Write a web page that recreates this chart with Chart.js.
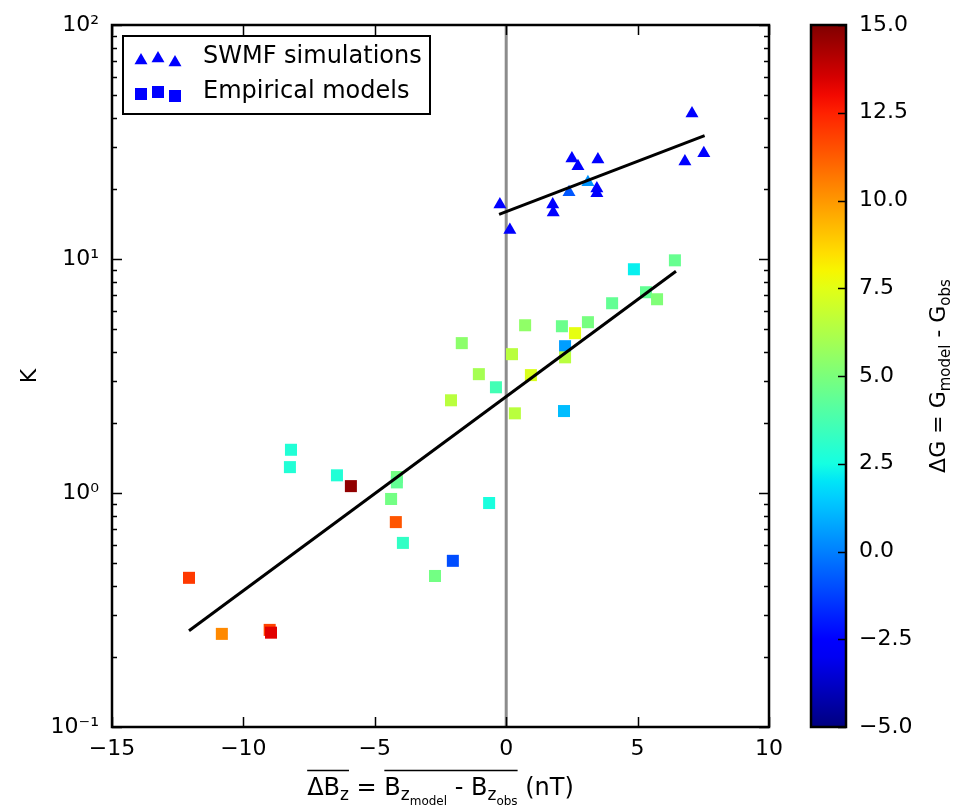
<!DOCTYPE html>
<html lang="en">
<head>
<meta charset="UTF-8">
<title>K vs mean Bz difference</title>
<script src="https://cdn.jsdelivr.net/npm/chart.js"></script>
<style>
  body { margin: 0; background: #fff; }
  .box { position: absolute; top: 0; height: 809px; }
</style>
</head>
<body>
<div class="box" style="left:0;width:790px"><canvas id="mainChart"></canvas></div>
<div class="box" style="left:790px;width:166px"><canvas id="cbarChart"></canvas></div>
<script>
// ---- data ----
// SWMF simulations (triangles)
const swmfDB = [-0.24, 0.14, 1.77, 1.79, 2.39, 2.50, 2.73, 3.11, 3.49, 3.45, 3.45, 7.07, 6.80, 7.52];
const swmfK  = [17.1, 13.3, 17.1, 15.8, 19.3, 26.9, 24.9, 21.3, 26.6, 20.0, 19.1, 41.9, 26.1, 28.3];
const swmfDG = [-2.6, -2.6, -2.6, -2.6, -0.8, -2.6, -2.6, 0.4, -2.6, -2.6, -2.6, -2.6, -2.6, -2.6];

// empirical models (squares)
const empDB = [-12.07, -10.82, -9.00, -8.95, -8.19, -8.23, -6.44, -5.91, -4.16, -4.16, -4.38, -4.20, -3.93, -2.71, -2.03, -0.65,
               -2.10, -1.69, -1.04, -0.39, 0.22, 0.33, 0.94, 0.72, 2.12, 2.62, 2.24, 2.24, 2.20, 3.11, 4.03, 4.86, 5.32, 5.74, 6.42];
const empK  = [0.434, 0.250, 0.260, 0.253, 1.53, 1.29, 1.19, 1.07, 1.17, 1.11, 0.943, 0.751, 0.612, 0.442, 0.513, 0.906,
               2.49, 4.37, 3.22, 2.83, 3.92, 2.19, 3.19, 5.21, 5.16, 4.82, 4.24, 3.80, 2.24, 5.37, 6.47, 9.04, 7.21, 6.73, 9.87];
const empDG = [12.0, 10.3, 11.8, 13.3, 2.8, 2.8, 2.8, 14.7, 4.8, 4.4, 4.8, 11.4, 3.2, 4.8, -1.0, 2.6,
               6.5, 5.4, 6.0, 3.6, 6.5, 6.5, 7.3, 5.5, 4.6, 7.6, 0.6, 6.5, 1.2, 4.9, 4.4, 2.2, 4.4, 5.1, 4.5];

// fit lines (end points)
const fitSwmfX = [-0.27, 7.55];
const fitSwmfK = [15.5, 33.7];
const fitEmpX  = [-12.07, 6.46];
const fitEmpK  = [0.258, 8.86];

// axes
const xMin = -15, xMax = 10;
const xTickValues = [-15, -10, -5, 0, 5, 10];
const yMin = 0.1, yMax = 100;
const yMajor = [0.1, 1, 10, 100];
const yMajorLabels = ['10\u207B\u00B9', '10\u2070', '10\u00B9', '10\u00B2'];
const cMin = -5, cMax = 15;
const cbTickValues = [-5, -2.5, 0, 2.5, 5, 7.5, 10, 12.5, 15];

const FONT = "'DejaVu Sans', sans-serif";

// matplotlib "jet"
const JET = {
  r: [[0, 0], [0.35, 0], [0.66, 1], [0.89, 1], [1, 0.5]],
  g: [[0, 0], [0.125, 0], [0.375, 1], [0.64, 1], [0.91, 0], [1, 0]],
  b: [[0, 0.5], [0.11, 1], [0.34, 1], [0.65, 0], [1, 0]]
};
function chan(t, pts) {
  for (let i = 1; i < pts.length; i++) {
    if (t <= pts[i][0]) {
      const [t0, v0] = pts[i - 1], [t1, v1] = pts[i];
      return v0 + (v1 - v0) * (t - t0) / (t1 - t0);
    }
  }
  return pts[pts.length - 1][1];
}
function jetT(t) {
  t = Math.min(1, Math.max(0, t));
  return 'rgb(' + Math.round(255 * chan(t, JET.r)) + ',' + Math.round(255 * chan(t, JET.g)) + ',' + Math.round(255 * chan(t, JET.b)) + ')';
}
function jet(v) { return jetT((v - cMin) / (cMax - cMin)); }

// matplotlib style minus sign
const fmt = (v, d) => (v < 0 ? '\u2212' : '') + Math.abs(v).toFixed(d);

// text with subscripts / overlines, drawn left to right
function drawRich(ctx, parts, cx, baseY) {
  let total = 0;
  parts.forEach(p => { ctx.font = p.s + 'px ' + FONT; p.w = ctx.measureText(p.t).width; total += p.w; });
  let x = cx - total / 2;
  const lines = {};
  ctx.textBaseline = 'alphabetic';
  ctx.textAlign = 'left';
  parts.forEach(p => {
    ctx.font = p.s + 'px ' + FONT;
    ctx.fillText(p.t, x, baseY + (p.dy || 0));
    if (p.ol) {
      if (!lines[p.ol]) lines[p.ol] = [x, x + p.w];
      else lines[p.ol][1] = x + p.w;
    }
    x += p.w;
  });
  return lines;
}

function markerPath(ctx, style, x, y, r) {
  ctx.beginPath();
  if (style === 'triangle') {
    ctx.moveTo(x, y - r);
    ctx.lineTo(x + r * 0.866, y + r / 2);
    ctx.lineTo(x - r * 0.866, y + r / 2);
  } else {
    const h = r * Math.SQRT1_2;
    ctx.rect(x - h, y - h, 2 * h, 2 * h);
  }
  ctx.closePath();
  ctx.fill();
}

// frame, inward ticks, legend and x label
const mainDecor = {
  id: 'mainDecor',
  afterDatasetsDraw(chart) {
    const {ctx, chartArea: a, scales: {x, y}} = chart;
    ctx.save();
    ctx.strokeStyle = '#000';
    ctx.lineWidth = 1.5;
    ctx.beginPath();
    x.ticks.forEach(t => {
      const px = Math.round(x.getPixelForValue(t.value)) + 0.5;
      ctx.moveTo(px, a.bottom); ctx.lineTo(px, a.bottom - 10);
      ctx.moveTo(px, a.top); ctx.lineTo(px, a.top + 10);
    });
    y.ticks.forEach(t => {
      const major = yMajor.some(m => Math.abs(t.value / m - 1) < 1e-6);
      const len = major ? 10 : 5;
      const py = Math.round(y.getPixelForValue(t.value)) + 0.5;
      ctx.moveTo(a.left, py); ctx.lineTo(a.left + len, py);
      ctx.moveTo(a.right, py); ctx.lineTo(a.right - len, py);
    });
    ctx.stroke();
    ctx.lineWidth = 2.5;
    ctx.strokeRect(a.left, a.top, a.right - a.left, a.bottom - a.top);

    // legend
    const lx = a.left + 11, ly = a.top + 11, lw = 307, lh = 78;
    ctx.fillStyle = '#fff';
    ctx.fillRect(lx, ly, lw, lh);
    ctx.lineWidth = 2;
    ctx.strokeRect(lx, ly, lw, lh);
    const rows = [
      {ds: chart.data.datasets[0], cy: ly + 23, r: 7.5},
      {ds: chart.data.datasets[1], cy: ly + 58, r: 8.5}
    ];
    const offs = [[18, 0], [35, -2], [52, 2]];
    rows.forEach(row => {
      ctx.fillStyle = jet(-2.6);
      offs.forEach(o => markerPath(ctx, row.ds.pointStyle, lx + o[0], row.cy + o[1] + (row.ds.pointStyle === 'triangle' ? 1.5 : 0), row.r));
      ctx.fillStyle = '#000';
      ctx.font = '24px ' + FONT;
      ctx.textAlign = 'left';
      ctx.textBaseline = 'middle';
      ctx.fillText(row.ds.label, lx + 80, row.cy - 2);
    });

    // x axis label with overlines
    ctx.fillStyle = '#000';
    const lines = drawRich(ctx, [
      {t: '\u0394B', s: 24, ol: 1},
      {t: 'z', s: 17, dy: 5, ol: 1},
      {t: ' = ', s: 24},
      {t: 'B', s: 24, ol: 2},
      {t: 'z', s: 17, dy: 5, ol: 2},
      {t: 'model', s: 12, dy: 10, ol: 2},
      {t: ' - B', s: 24, ol: 2},
      {t: 'z', s: 17, dy: 5, ol: 2},
      {t: 'obs', s: 12, dy: 10, ol: 2},
      {t: ' (nT)', s: 24}
    ], (a.left + a.right) / 2, 795);
    ctx.lineWidth = 1.5;
    ctx.beginPath();
    Object.values(lines).forEach(l => { ctx.moveTo(l[0], 770.5); ctx.lineTo(l[1], 770.5); });
    ctx.stroke();
    ctx.restore();
  }
};

const tickFont = {family: FONT, size: 22};

new Chart(document.getElementById('mainChart'), {
  type: 'scatter',
  data: {
    datasets: [
      {
        label: 'SWMF simulations',
        data: swmfDB.map((v, i) => ({x: v, y: swmfK[i]})),
        pointStyle: 'triangle',
        pointRadius: 7.5,
        pointBackgroundColor: swmfDG.map(jet),
        pointBorderWidth: 0,
        order: 1
      },
      {
        label: 'Empirical models',
        data: empDB.map((v, i) => ({x: v, y: empK[i]})),
        pointStyle: 'rect',
        pointRadius: 8.5,
        pointBackgroundColor: empDG.map(jet),
        pointBorderWidth: 0,
        order: 1
      },
      {
        label: 'SWMF fit',
        data: fitSwmfX.map((v, i) => ({x: v, y: fitSwmfK[i]})),
        showLine: true, borderColor: '#000', borderWidth: 3, pointRadius: 0, order: 0
      },
      {
        label: 'Empirical fit',
        data: fitEmpX.map((v, i) => ({x: v, y: fitEmpK[i]})),
        showLine: true, borderColor: '#000', borderWidth: 3, pointRadius: 0, order: 0
      },
      {
        label: 'zero',
        data: [{x: 0, y: yMin}, {x: 0, y: yMax}],
        showLine: true, borderColor: '#8c8c8c', borderWidth: 3, pointRadius: 0, order: 2
      }
    ]
  },
  options: {
    responsive: true,
    maintainAspectRatio: false,
    animation: false,
    events: [],
    layout: {padding: {left: 0, top: 25, right: 21, bottom: 0}},
    plugins: {legend: {display: false}, tooltip: {enabled: false}},
    scales: {
      x: {
        type: 'linear', min: xMin, max: xMax,
        afterBuildTicks: s => { s.ticks = xTickValues.map(v => ({value: v})); },
        afterFit: s => { s.height = 82; s.paddingLeft = 0; s.paddingRight = 0; },
        ticks: {autoSkip: false, padding: 9, color: '#000', font: tickFont, callback: v => fmt(v, 0)},
        grid: {display: false, drawTicks: false},
        border: {display: false}
      },
      y: {
        type: 'logarithmic', min: yMin, max: yMax,
        afterBuildTicks: s => {
          const t = [];
          yMajor.forEach((m, i) => {
            t.push({value: m});
            if (i < yMajor.length - 1) for (let k = 2; k <= 9; k++) t.push({value: +(m * k).toPrecision(6)});
          });
          s.ticks = t;
        },
        afterFit: s => { s.width = 112; s.paddingTop = 0; s.paddingBottom = 0; },
        ticks: {
          autoSkip: false, padding: 13, color: '#000', font: tickFont,
          callback: v => {
            const i = yMajor.findIndex(m => Math.abs(v / m - 1) < 1e-6);
            return i >= 0 ? yMajorLabels[i] : '';
          }
        },
        title: {display: true, text: 'K', color: '#000', font: {family: FONT, size: 22}, padding: {top: 17, bottom: 0}},
        grid: {display: false, drawTicks: false},
        border: {display: false}
      }
    }
  },
  plugins: [mainDecor]
});

// ---- colour bar ----
const cbarDecor = {
  id: 'cbarDecor',
  afterDatasetsDraw(chart) {
    const {ctx, chartArea: a, scales: {y}} = chart;
    ctx.save();
    ctx.strokeStyle = '#000';
    ctx.lineWidth = 1.5;
    ctx.beginPath();
    y.ticks.forEach(t => {
      const py = Math.round(y.getPixelForValue(t.value)) + 0.5;
      ctx.moveTo(a.right, py); ctx.lineTo(a.right - 8, py);
    });
    ctx.stroke();
    ctx.lineWidth = 2.5;
    ctx.strokeRect(a.left, a.top, a.right - a.left, a.bottom - a.top);
    // title, rotated
    ctx.translate(148, (a.top + a.bottom) / 2);
    ctx.rotate(-Math.PI / 2);
    ctx.fillStyle = '#000';
    drawRich(ctx, [
      {t: '\u0394G = G', s: 22},
      {t: 'model', s: 15, dy: 5},
      {t: ' - G', s: 22},
      {t: 'obs', s: 15, dy: 5}
    ], 0, 7);
    ctx.restore();
  }
};

new Chart(document.getElementById('cbarChart'), {
  type: 'bar',
  data: {
    labels: [''],
    datasets: [{
      data: [[cMin, cMax]],
      backgroundColor: c => {
        const area = c.chart.chartArea;
        if (!area) return '#00f';
        const g = c.chart.ctx.createLinearGradient(0, area.bottom, 0, area.top);
        for (let i = 0; i <= 40; i++) g.addColorStop(i / 40, jetT(i / 40));
        return g;
      },
      borderWidth: 0,
      barPercentage: 1,
      categoryPercentage: 1
    }]
  },
  options: {
    responsive: true,
    maintainAspectRatio: false,
    animation: false,
    events: [],
    layout: {padding: {left: 21, top: 25, right: 0, bottom: 82}},
    plugins: {legend: {display: false}, tooltip: {enabled: false}},
    scales: {
      x: {display: false},
      y: {
        position: 'right', min: cMin, max: cMax,
        afterBuildTicks: s => { s.ticks = cbTickValues.map(v => ({value: v})); },
        afterFit: s => { s.width = 110; s.paddingTop = 0; s.paddingBottom = 0; },
        ticks: {autoSkip: false, padding: 13, color: '#000', font: tickFont, callback: v => fmt(v, 1)},
        grid: {display: false, drawTicks: false},
        border: {display: false}
      }
    }
  },
  plugins: [cbarDecor]
});
</script>
</body>
</html>
